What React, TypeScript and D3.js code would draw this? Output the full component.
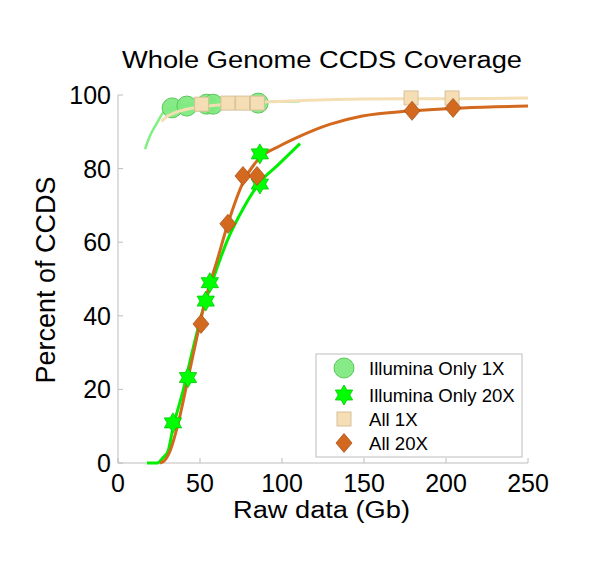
import React from 'react';
import * as d3 from 'd3';

// measured points
const illumina1xX = [33, 42, 54, 58, 85.5];
const illumina1xY = [96.5, 97.0, 97.5, 97.5, 97.8];

const illumina20xX = [33.5, 42.7, 53.5, 56, 86.5, 86.5];
const illumina20xY = [10.9, 23.2, 44, 49, 84, 75.8];

const all1xX = [51, 67, 76, 85, 178.7, 203.7];
const all1xY = [97.5, 97.8, 97.8, 97.8, 99.2, 99.2];

const all20xX = [50.6, 67, 76.2, 84.8, 179.3, 204.3];
const all20xY = [37.8, 65, 78, 78, 95.7, 96.5];

// fitted curves
const fitIllum1xX = [16.5, 19.5, 23.8, 27.4, 33, 42, 55, 70, 85, 100, 111];
const fitIllum1xY = [85.3, 88.9, 92.4, 95.1, 96.5, 97.2, 97.6, 97.9, 98.1, 98.2, 98.3];

const fitAll1xX = [26.5, 30, 34.8, 42.7, 55, 70, 85, 107, 148, 208, 250];
const fitAll1xY = [92.8, 94.2, 95.2, 96.2, 97.0, 97.6, 98.0, 98.4, 98.9, 99.0, 99.2];

const fitIllum20xX = [17.7, 24, 27.4, 30.5, 33.5, 39.6, 45.7, 52, 58, 66.5, 76.2, 86.6, 97.6, 111];
const fitIllum20xY = [0, 0, 1.4, 3.2, 9.5, 19.5, 31, 42, 50, 60.3, 69, 76.3, 81, 86.8];

const fitAll20xX = [25.6, 28, 31.7, 36.6, 42, 48, 54.3, 60.4, 67, 76, 86.6, 98, 109, 129, 149, 179, 210, 250];
const fitAll20xY = [0, 0.5, 3.2, 10.6, 21.5, 34, 46, 55, 65, 76, 83, 86, 88.4, 92, 94.3, 95.7, 96.5, 97];

const xTicks = [0, 50, 100, 150, 200, 250];
const yTicks = [0, 20, 40, 60, 80, 100];

const legendLabels = ['Illumina Only 1X', 'Illumina Only 20X', 'All 1X', 'All 20X'];

const FONT = '"Liberation Sans", Arial, Helvetica, sans-serif';

const zip = (xs: number[], ys: number[]) => xs.map((x, i) => [x, ys[i]] as [number, number]);

// six pointed star
const starPath = (r: number) => {
  const pts: [number, number][] = d3.range(12).map((i) => [
    (i * Math.PI) / 6,
    i % 2 === 0 ? r : r * 0.58,
  ]);
  return d3.lineRadial().curve(d3.curveLinearClosed)(pts) || '';
};

const diamondPath = 'M0,-9.5L8,0L0,9.5L-8,0Z';

const App: React.FC = () => {
  const x = d3.scaleLinear().domain([0, 250]).range([118, 528]);
  const y = d3.scaleLinear().domain([0, 100]).range([463, 95]);

  const line = d3
    .line<[number, number]>()
    .x((d) => x(d[0]))
    .y((d) => y(d[1]))
    .curve(d3.curveMonotoneX);

  const axisColor = '#bdbdbd';

  const circleSym = (key: string | number, cx: number, cy: number) => (
    <circle key={key} cx={cx} cy={cy} r={10} fill="#80ea80" stroke="#5cc65c" strokeWidth={1} fillOpacity={0.95} />
  );
  const starSym = (key: string | number, cx: number, cy: number) => (
    <path key={key} d={starPath(10)} transform={`translate(${cx},${cy})`} fill="#00ff00" stroke="#00c800" strokeWidth={0.8} />
  );
  const squareSym = (key: string | number, cx: number, cy: number) => (
    <rect key={key} x={cx - 7} y={cy - 7} width={14} height={14} fill="#f5deb3" stroke="#d6c09b" strokeWidth={1} />
  );
  const diamondSym = (key: string | number, cx: number, cy: number) => (
    <path key={key} d={diamondPath} transform={`translate(${cx},${cy})`} fill="#d2691e" stroke="#a8531a" strokeWidth={0.8} />
  );

  const legendY = [368, 395, 419, 443];
  const legendSyms = [circleSym, starSym, squareSym, diamondSym];

  return (
    <svg width={600} height={562} style={{ position: 'absolute', left: 0, top: 0, background: '#fff' }} fontFamily={FONT}>
      {/* title */}
      <text x={122} y={68} fontSize={23} textLength={400} lengthAdjust="spacingAndGlyphs" fill="#000">
        Whole Genome CCDS Coverage
      </text>

      {/* axes */}
      <line x1={x(0)} x2={x(250)} y1={y(0)} y2={y(0)} stroke={axisColor} />
      <line x1={x(0)} x2={x(0)} y1={y(0)} y2={y(100)} stroke={axisColor} />
      {xTicks.map((t) => (
        <g key={'x' + t}>
          <line x1={x(t)} x2={x(t)} y1={y(0)} y2={y(0) - 5} stroke={axisColor} />
          <text x={x(t)} y={492} fontSize={25} textAnchor="middle">
            {t}
          </text>
        </g>
      ))}
      {yTicks.map((t) => (
        <g key={'y' + t}>
          <line x1={x(0)} x2={x(0) + 5} y1={y(t)} y2={y(t)} stroke={axisColor} />
          <text x={111} y={y(t) + 9} fontSize={25} textAnchor="end">
            {t}
          </text>
        </g>
      ))}
      <text x={233} y={518} fontSize={23} textLength={177} lengthAdjust="spacingAndGlyphs">
        Raw data (Gb)
      </text>
      <text transform="translate(55,280) rotate(-90)" fontSize={27} textAnchor="middle">
        Percent of CCDS
      </text>

      {/* 1X series */}
      <path d={line(zip(fitIllum1xX, fitIllum1xY)) || ''} fill="none" stroke="#80f080" strokeWidth={2.5} />
      {illumina1xX.map((v, i) => circleSym(i, x(v), y(illumina1xY[i])))}
      <path d={line(zip(fitAll1xX, fitAll1xY)) || ''} fill="none" stroke="#f5deb3" strokeWidth={3} />
      {all1xX.map((v, i) => squareSym(i, x(v), y(all1xY[i])))}

      {/* 20X series */}
      <path d={line(zip(fitIllum20xX, fitIllum20xY)) || ''} fill="none" stroke="#00ee00" strokeWidth={3} />
      <path d={line(zip(fitAll20xX, fitAll20xY)) || ''} fill="none" stroke="#d2691e" strokeWidth={3} />
      {illumina20xX.map((v, i) => starSym(i, x(v), y(illumina20xY[i])))}
      {all20xX.map((v, i) => diamondSym(i, x(v), y(all20xY[i])))}

      {/* legend */}
      <rect x={316} y={354} width={206} height={103} fill="#fff" stroke={axisColor} />
      {legendLabels.map((lab, i) => (
        <g key={lab}>
          {legendSyms[i]('l' + i, 344, legendY[i])}
          <text x={369} y={legendY[i] + 7} fontSize={18.6}>
            {lab}
          </text>
        </g>
      ))}
    </svg>
  );
};

export default App;
